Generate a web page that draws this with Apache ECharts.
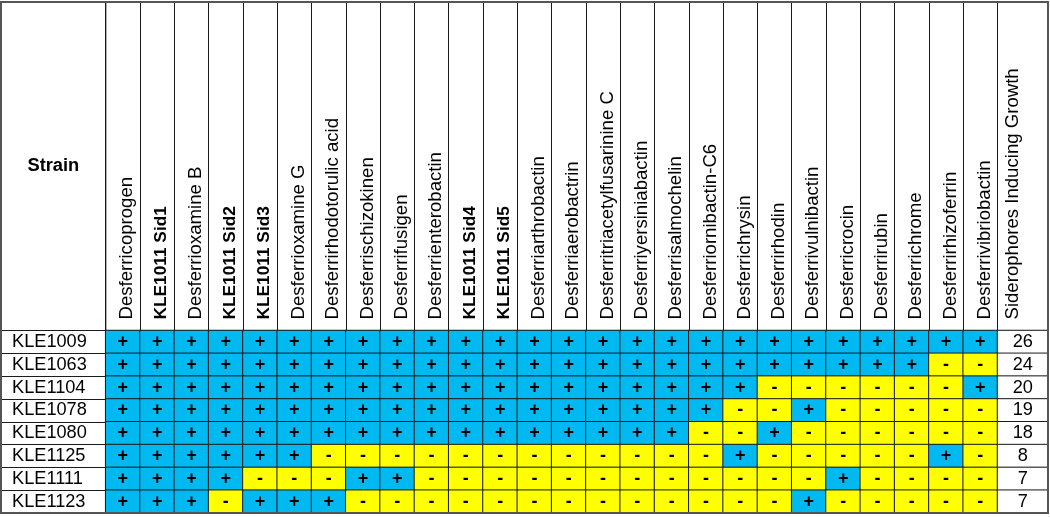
<!DOCTYPE html>
<html><head><meta charset="utf-8">
<script src="https://cdn.jsdelivr.net/npm/echarts@6/dist/echarts.min.js"></script>
<style>html,body{margin:0;padding:0;background:#fff}#c{width:1050px;height:517px}</style>
</head><body><div id="c"></div>
<script>
// ---------- data ----------
const strainHeader = 'Strain';
const countHeader = 'Siderophores Inducing Growth';
const strains = ['KLE1009','KLE1063','KLE1104','KLE1078','KLE1080','KLE1125','KLE1111','KLE1123'];
const siderophores = [
  'Desferricoprogen','KLE1011 Sid1','Desferrioxamine B','KLE1011 Sid2','KLE1011 Sid3',
  'Desferrioxamine G','Desferrirhodotorulic acid','Desferrischizokinen','Desferrifusigen',
  'Desferrienterobactin','KLE1011 Sid4','KLE1011 Sid5','Desferriarthrobactin',
  'Desferriaerobactrin','Desferritriacetylfusarinine C','Desferriyersiniabactin',
  'Desferrisalmochelin','Desferriornibactin-C6','Desferrichrysin','Desferrirhodin',
  'Desferrivulnibactin','Desferricrocin','Desferrirubin','Desferrichrome',
  'Desferrirhizoferrin','Desferrivibriobactin'
];
const boldSiderophores = ['KLE1011 Sid1','KLE1011 Sid2','KLE1011 Sid3','KLE1011 Sid4','KLE1011 Sid5'];
// 1 = growth (+), 0 = no growth (-)
const growthKLE1009 = [1,1,1,1,1,1,1,1,1,1,1,1,1,1,1,1,1,1,1,1,1,1,1,1,1,1];
const growthKLE1063 = [1,1,1,1,1,1,1,1,1,1,1,1,1,1,1,1,1,1,1,1,1,1,1,1,0,0];
const growthKLE1104 = [1,1,1,1,1,1,1,1,1,1,1,1,1,1,1,1,1,1,1,0,0,0,0,0,0,1];
const growthKLE1078 = [1,1,1,1,1,1,1,1,1,1,1,1,1,1,1,1,1,1,0,0,1,0,0,0,0,0];
const growthKLE1080 = [1,1,1,1,1,1,1,1,1,1,1,1,1,1,1,1,1,0,0,1,0,0,0,0,0,0];
const growthKLE1125 = [1,1,1,1,1,1,0,0,0,0,0,0,0,0,0,0,0,0,1,0,0,0,0,0,1,0];
const growthKLE1111 = [1,1,1,1,0,0,0,1,1,0,0,0,0,0,0,0,0,0,0,0,0,1,0,0,0,0];
const growthKLE1123 = [1,1,1,0,1,1,1,0,0,0,0,0,0,0,0,0,0,0,0,0,1,0,0,0,0,0];
const growthCounts = [26,24,20,19,18,8,7,7];

// ---------- build ----------
const growthRows = [growthKLE1009,growthKLE1063,growthKLE1104,growthKLE1078,
                    growthKLE1080,growthKLE1125,growthKLE1111,growthKLE1123];
const cellData = [];
growthRows.forEach((row, i) => row.forEach((v, j) => cellData.push([j, i, v])));
const countData = growthCounts.map((c, i) => [0, i, c]);

const font = 'Liberation Sans, Arial, sans-serif';
const BLUE = '#00B9F1', YELLOW = '#FFFF00', LINE = '#1a1a1a';

const gridBase = {show: true, backgroundColor: 'transparent', borderColor: LINE, borderWidth: 1};
const grids = [
  Object.assign({left: 105.7, top: 330.5, width: 891.8, height: 182.5}, gridBase), // 0 body
  Object.assign({left: 105.7, top: 2, width: 891.8, height: 328.5}, gridBase),     // 1 header
  Object.assign({left: 997.5, top: 330.5, width: 50.5, height: 182.5}, gridBase),  // 2 count body
  Object.assign({left: 997.5, top: 2, width: 50.5, height: 328.5}, gridBase),      // 3 count header
  Object.assign({left: 1, top: 2, width: 104.7, height: 328.5}, gridBase),         // 4 strain header
  Object.assign({left: 1, top: 330.5, width: 104.7, height: 182.5}, gridBase),     // 5 strain body
  {left: 1, top: 2, width: 1047, height: 511, show: true, backgroundColor: 'transparent',
   borderColor: '#555', borderWidth: 2, z: 10}                                     // 6 frame
];

const hidden = {show: false};
const rotLabel = (pad) => ({
  inside: true, rotate: 90, interval: 0, margin: 11, padding: pad, color: '#000',
  fontFamily: font,
  formatter: v => boldSiderophores.includes(v) ? '{b|' + v + '}' : '{r|' + v + '}',
  rich: {
    b: {fontWeight: 'bold', fontSize: 17.3, fontFamily: font, color: '#000'},
    r: {fontSize: 18.6, fontFamily: font, color: '#000'}
  }
});

const option = {
  animation: false,
  backgroundColor: '#fff',
  grid: grids,
  xAxis: [
    {gridIndex: 0, type: 'category', data: siderophores, show: false},
    {gridIndex: 1, type: 'category', data: siderophores, position: 'bottom',
     axisLine: hidden, axisTick: hidden,
     splitLine: {show: true, interval: 0, lineStyle: {color: LINE, width: 1}},
     axisLabel: rotLabel([9, 0, 0, 0])},
    {gridIndex: 2, type: 'category', data: ['count'], show: false},
    {gridIndex: 3, type: 'category', data: [countHeader], position: 'bottom',
     axisLine: hidden, axisTick: hidden, axisLabel: rotLabel([0, 0, 20, 0])},
    {gridIndex: 4, type: 'category', data: [strainHeader], position: 'bottom',
     axisLine: hidden, axisTick: hidden,
     axisLabel: {inside: true, margin: 155.5, color: '#000', fontFamily: font,
                 fontWeight: 'bold', fontSize: 18.3}},
    {gridIndex: 5, type: 'category', data: ['strain'], show: false},
    {gridIndex: 6, type: 'category', data: ['frame'], show: false}
  ],
  yAxis: [
    {gridIndex: 0, type: 'category', data: strains, inverse: true, show: false},
    {gridIndex: 1, type: 'value', show: false},
    {gridIndex: 2, type: 'category', data: strains, inverse: true, show: false},
    {gridIndex: 3, type: 'value', show: false},
    {gridIndex: 4, type: 'value', show: false},
    {gridIndex: 5, type: 'category', data: strains, inverse: true,
     axisLine: hidden, axisTick: hidden,
     splitLine: {show: true, interval: 0, lineStyle: {color: LINE, width: 1}},
     axisLabel: {inside: true, interval: 0, margin: 11, color: '#000', fontFamily: font, fontSize: 18.2}},
    {gridIndex: 6, type: 'category', data: ['frame'], show: false}
  ],
  visualMap: {
    type: 'piecewise', show: false, seriesIndex: 0, dimension: 2,
    pieces: [{value: 1, color: BLUE}, {value: 0, color: YELLOW}]
  },
  series: [
    {
      type: 'heatmap', xAxisIndex: 0, yAxisIndex: 0, data: cellData,
      itemStyle: {borderColor: LINE, borderWidth: 1},
      label: {show: true, formatter: p => p.value[2] ? '+' : '-', color: '#000',
              fontFamily: font, fontWeight: 'bold', fontSize: 18},
      emphasis: {disabled: true}
    },
    {
      type: 'heatmap', xAxisIndex: 2, yAxisIndex: 2, data: countData,
      itemStyle: {color: '#fff', borderColor: LINE, borderWidth: 1},
      label: {show: true, formatter: p => String(p.value[2]), color: '#000',
              fontFamily: font, fontSize: 18.2},
      emphasis: {disabled: true}
    }
  ]
};

const chart = echarts.init(document.getElementById('c'), null, {renderer: 'canvas'});
chart.setOption(option);
</script>
</body></html>
